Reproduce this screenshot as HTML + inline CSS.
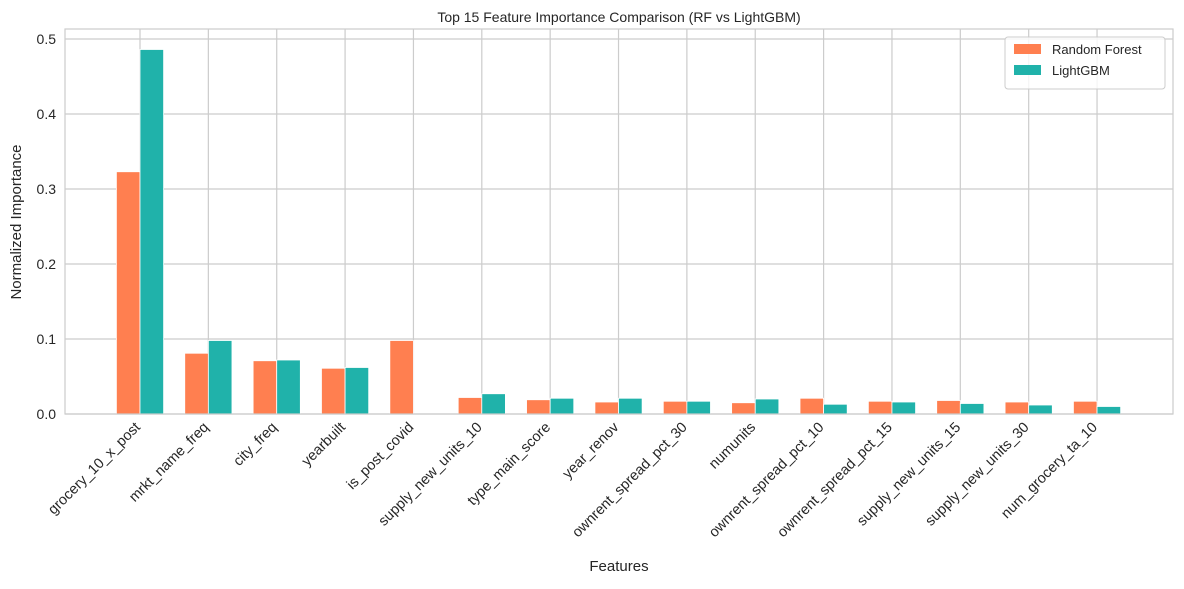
<!DOCTYPE html>
<html><head><meta charset="utf-8"><style>
body{margin:0;background:#fff;font-family:"Liberation Sans","DejaVu Sans",sans-serif;}
svg text{font-family:"Liberation Sans","DejaVu Sans",sans-serif;fill:#262626;}
</style></head><body>
<svg id="chart" width="1184" height="584" xmlns="http://www.w3.org/2000/svg">
<rect width="1184" height="584" fill="#fff"/>
<text x="619" y="22" font-size="14" text-anchor="middle">Top 15 Feature Importance Comparison (RF vs LightGBM)</text>
<g id="grid"></g><g id="bars"></g><g id="axes"></g>
<rect x="65" y="29" width="1108" height="385" fill="none" stroke="#ccc" stroke-width="1.2"/>
<text x="619" y="571" font-size="15" text-anchor="middle">Features</text>
<text transform="translate(21,222) rotate(-90)" font-size="15" text-anchor="middle">Normalized Importance</text>
<g>
<rect x="1005" y="37" width="160" height="52" fill="#fff" fill-opacity="0.8" stroke="#ccc" rx="3"/>
<rect x="1014" y="44" width="27" height="10" fill="#FF7F50"/>
<text x="1052" y="54" font-size="13">Random Forest</text>
<rect x="1014" y="65" width="27" height="10" fill="#20B2AA"/>
<text x="1052" y="75" font-size="13">LightGBM</text>
</g>
</svg>
<script>
const categories=["grocery_10_x_post","mrkt_name_freq","city_freq","yearbuilt","is_post_covid","supply_new_units_10","type_main_score","year_renov","ownrent_spread_pct_30","numunits","ownrent_spread_pct_10","ownrent_spread_pct_15","supply_new_units_15","supply_new_units_30","num_grocery_ta_10"];
const rfValues=[0.323,0.081,0.071,0.061,0.098,0.022,0.019,0.016,0.017,0.015,0.021,0.017,0.018,0.016,0.017];
const lgbmValues=[0.486,0.098,0.072,0.062,0.0,0.027,0.021,0.021,0.017,0.020,0.013,0.016,0.014,0.012,0.010];
const yTicks=[0,0.1,0.2,0.3,0.4,0.5];
const yTickLabels=["0.0","0.1","0.2","0.3","0.4","0.5"];
const NS="http://www.w3.org/2000/svg";
const x0=140,step=68.36,bw=23.6;
const xS=i=>x0+i*step;
const yS=v=>414-v*750;
function mk(t,a,p){const e=document.createElementNS(NS,t);for(const k in a)e.setAttribute(k,a[k]);p.appendChild(e);return e;}
const grid=document.getElementById('grid'),bars=document.getElementById('bars'),axes=document.getElementById('axes');
yTicks.forEach((v,i)=>{
 const l=mk('line',{x1:65,x2:1173,y1:yS(v),y2:yS(v),stroke:'#ccc','stroke-width':1.2},grid);
 
 
 const t=mk('text',{x:56,y:yS(v)+5,'font-size':14,'text-anchor':'end'},axes);
 t.textContent=yTickLabels[i];
 
 
});
categories.forEach((c,i)=>{
 const x=xS(i);
 const g=mk('line',{x1:x,x2:x,y1:29,y2:414,stroke:'#ccc','stroke-width':1.2},grid);
 
 
 const r1=mk('rect',{x:x-bw,y:yS(rfValues[i]),width:bw,height:yS(0)-yS(rfValues[i]),fill:'#FF7F50',stroke:'#fff','stroke-width':0.8},bars);
 
 
 const r2=mk('rect',{x:x,y:yS(lgbmValues[i]),width:bw,height:yS(0)-yS(lgbmValues[i]),fill:'#20B2AA',stroke:'#fff','stroke-width':0.8},bars);
 
 
 const t=mk('text',{transform:`translate(${x+1},${428}) rotate(-45)`,'font-size':14.5,'text-anchor':'end'},axes);
 t.textContent=c;
 
 
});
</script>
</body></html>
